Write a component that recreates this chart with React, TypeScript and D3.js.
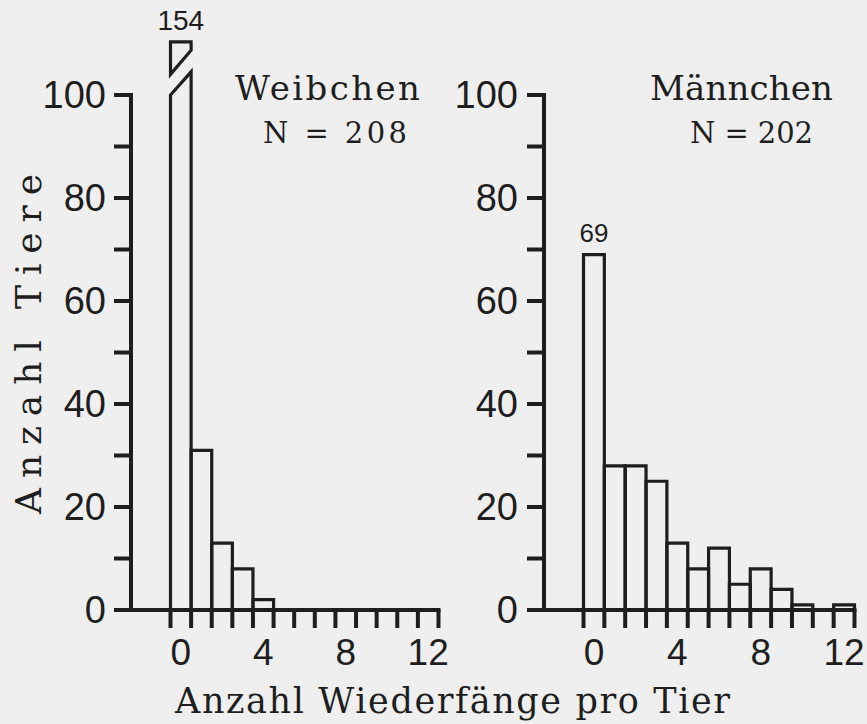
import React from "react";
import * as d3 from "d3";

const bins = [0, 1, 2, 3, 4, 5, 6, 7, 8, 9, 10, 11, 12];
const femaleCounts = [154, 31, 13, 8, 2, 0, 0, 0, 0, 0, 0, 0, 0];
const maleCounts = [69, 28, 28, 25, 13, 8, 12, 5, 8, 4, 1, 0, 1];
const yTicks = [0, 10, 20, 30, 40, 50, 60, 70, 80, 90, 100];
const yTickLabels = [0, 20, 40, 60, 80, 100];
const xTickLabels = [0, 4, 8, 12];
const panelTitles = ["Weibchen", "Männchen"];
const panelN = ["N = 208", "N = 202"];
const yTitle = "Anzahl Tiere";
const xTitle = "Anzahl Wiederfänge pro Tier";

const W = 867;
const H = 724;
const INK = "#1e1e1e";
const BG = "#efefef";
const Y_MAX = 100;

const yScale = d3.scaleLinear().domain([0, Y_MAX]).range([610, 95]);

type PanelSpec = {
  counts: number[];
  axisX: number;
  x0: number;
  x1: number;
  title: string;
  n: string;
  titleX: number;
  titleLen: number;
  nX: number;
  nLen: number;
  labelX: number;
};

const panels: PanelSpec[] = [
  {
    counts: femaleCounts,
    axisX: 131,
    x0: 170.5,
    x1: 438.5,
    title: panelTitles[0],
    n: panelN[0],
    titleX: 235,
    titleLen: 185,
    nX: 263,
    nLen: 144,
    labelX: 106,
  },
  {
    counts: maleCounts,
    axisX: 544,
    x0: 583.5,
    x1: 854.5,
    title: panelTitles[1],
    n: panelN[1],
    titleX: 650,
    titleLen: 183,
    nX: 690,
    nLen: 123,
    labelX: 518,
  },
];

const Panel: React.FC<{ p: PanelSpec }> = ({ p }) => {
  const x = d3.scaleLinear().domain([-0.5, 12.5]).range([p.x0, p.x1]);
  const y0 = yScale(0);
  const bw = 3.2;
  const edges = d3.range(-0.5, 13, 1);

  const bars = bins.map((b, i) => {
    const v = p.counts[i];
    if (v <= 0) return null;
    const xl = x(b - 0.5);
    const xr = x(b + 0.5);
    if (v > Y_MAX) {
      // broken bar
      const top = yScale(110.3);
      const lowL = yScale(100);
      const lowR = yScale(104.5);
      const upL = yScale(104);
      const upR = yScale(108.7);
      return (
        <g key={i}>
          <path
            d={`M${xl},${y0} L${xl},${lowL} L${xr},${lowR} L${xr},${y0}`}
            fill="none"
            stroke={INK}
            strokeWidth={bw}
          />
          <path
            d={`M${xl},${upL} L${xl},${top} L${xr},${top} L${xr},${upR} Z`}
            fill="none"
            stroke={INK}
            strokeWidth={bw}
            strokeLinejoin="miter"
          />
          <text
            x={(xl + xr) / 2}
            y={top - 12}
            textAnchor="middle"
            fontFamily="Liberation Sans"
            fontSize={28}
            fill={INK}
          >
            {v}
          </text>
        </g>
      );
    }
    return (
      <g key={i}>
        <path
          d={`M${xl},${y0} L${xl},${yScale(v)} L${xr},${yScale(v)} L${xr},${y0}`}
          fill="none"
          stroke={INK}
          strokeWidth={bw}
        />
        {i === 0 && (
          <text
            x={(xl + xr) / 2}
            y={yScale(v) - 13}
            textAnchor="middle"
            fontFamily="Liberation Sans"
            fontSize={26}
            fill={INK}
          >
            {v}
          </text>
        )}
      </g>
    );
  });

  return (
    <g>
      {/* y axis */}
      <line x1={p.axisX} x2={p.axisX} y1={yScale(100) - 2} y2={y0 + 2} stroke={INK} strokeWidth={4} />
      {yTicks.map((t) => (
        <line
          key={t}
          x1={p.axisX - 17}
          x2={p.axisX}
          y1={yScale(t)}
          y2={yScale(t)}
          stroke={INK}
          strokeWidth={4}
        />
      ))}
      {yTickLabels.map((t) => (
        <text
          key={t}
          x={p.labelX}
          y={yScale(t) + 13}
          textAnchor="end"
          fontFamily="Liberation Sans"
          fontSize={38}
          fill={INK}
        >
          {t}
        </text>
      ))}
      {/* x axis */}
      <line x1={p.axisX} x2={p.x1 + 2} y1={y0} y2={y0} stroke={INK} strokeWidth={4} />
      {edges.map((e) => (
        <line
          key={e}
          x1={x(e)}
          x2={x(e)}
          y1={y0}
          y2={y0 + 18}
          stroke={INK}
          strokeWidth={4}
        />
      ))}
      {xTickLabels.map((t) => (
        <text
          key={t}
          x={x(t)}
          y={665}
          textAnchor="middle"
          fontFamily="Liberation Sans"
          fontSize={37}
          fill={INK}
        >
          {t}
        </text>
      ))}
      {bars}
      <text
        x={p.titleX}
        y={100}
        fontFamily="DejaVu Serif"
        fontSize={34}
        textLength={p.titleLen}
        lengthAdjust="spacing"
        fill={INK}
      >
        {p.title}
      </text>
      <text
        x={p.nX}
        y={143}
        fontFamily="DejaVu Serif"
        fontSize={29}
        textLength={p.nLen}
        lengthAdjust="spacing"
        fill={INK}
        xmlSpace="preserve"
      >
        {p.n}
      </text>
    </g>
  );
};

export default function App() {
  return (
    <svg width={W} height={H} style={{ display: "block", position: "absolute", left: 0, top: 0 }}>
      <rect x={0} y={0} width={W} height={H} fill={BG} />
      {panels.map((p, i) => (
        <Panel key={i} p={p} />
      ))}
      <text
        transform={`translate(41,344) rotate(-90)`}
        textAnchor="middle"
        fontFamily="DejaVu Serif"
        fontSize={36}
        textLength={340}
        lengthAdjust="spacing"
        fill={INK}
      >
        {yTitle}
      </text>
      <text
        x={175}
        y={713}
        fontFamily="DejaVu Serif"
        fontSize={35}
        textLength={555}
        lengthAdjust="spacing"
        fill={INK}
      >
        {xTitle}
      </text>
    </svg>
  );
}
